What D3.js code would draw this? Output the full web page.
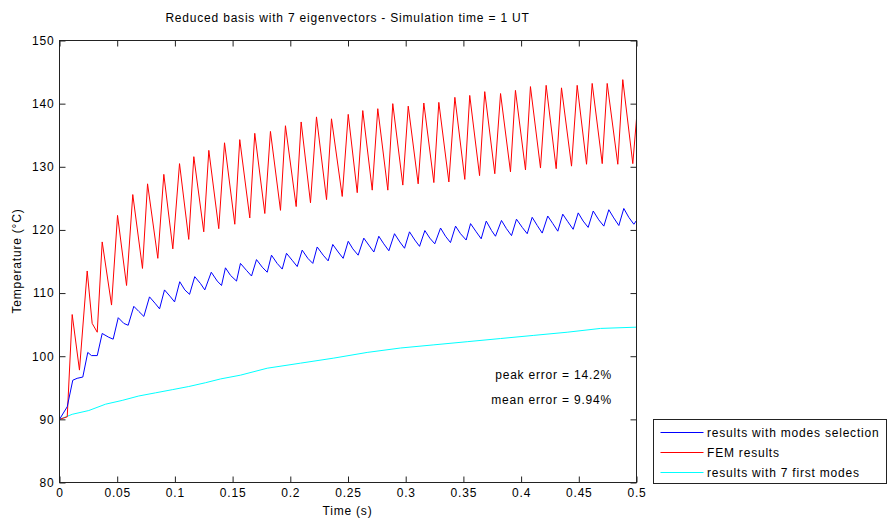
<!DOCTYPE html>
<html>
<head>
<meta charset="utf-8">
<script src="https://cdn.jsdelivr.net/npm/d3@7"></script>
<style>
  html, body { margin: 0; padding: 0; background: #fff; }
  svg { display: block; }
  text { font-family: "Liberation Sans", Arial, sans-serif; font-size: 12px; letter-spacing: 0.8px; fill: #000; }
</style>
</head>
<body>
<svg id="chart" width="887" height="520"></svg>
<script>
// ---------------- DATA ----------------
const titleText = "Reduced basis with 7 eigenvectors - Simulation time = 1 UT";
const xLabel = "Time (s)";
const yLabel = "Temperature (\u00B0C)";
const xTicks = [0, 0.05, 0.1, 0.15, 0.2, 0.25, 0.3, 0.35, 0.4, 0.45, 0.5];
const xTickLabels = ["0", "0.05", "0.1", "0.15", "0.2", "0.25", "0.3", "0.35", "0.4", "0.45", "0.5"];
const yTicks = [80, 90, 100, 110, 120, 130, 140, 150];
const yTickLabels = ["80", "90", "100", "110", "120", "130", "140", "150"];
const seriesNames = ["results with modes selection", "FEM results", "results with 7 first modes"];
const annotations = ["peak error = 14.2%", "mean error = 9.94%"];

// FEM results (red)
const redTime = [0, 0.0067, 0.0110, 0.0173, 0.0240, 0.0283, 0.0327, 0.0370, 0.0451, 0.0503, 0.0581, 0.0635, 0.0719, 0.0763,
  0.0852, 0.0904, 0.0982, 0.1040, 0.1120, 0.1164, 0.1250, 0.1294, 0.1380, 0.1430, 0.1519, 0.1562, 0.1649, 0.1692,
  0.1779, 0.1828, 0.1915, 0.1958, 0.2051, 0.2094, 0.2175, 0.2227, 0.2314, 0.2357, 0.2450, 0.2502, 0.2580, 0.2628,
  0.2710, 0.2758, 0.2845, 0.2888, 0.2975, 0.3022, 0.3108, 0.3157, 0.3244, 0.3287, 0.3374, 0.3426, 0.3512, 0.3555,
  0.3640, 0.3685, 0.3772, 0.3822, 0.3908, 0.3951, 0.4038, 0.4081, 0.4168, 0.4217, 0.4304, 0.4350, 0.4437, 0.4486,
  0.4567, 0.4616, 0.4703, 0.4746, 0.4838, 0.4881, 0.4968, 0.5000];
const redTemp = [90.0, 90.4, 106.6, 97.8, 113.5, 105.2, 103.8, 118.1, 108.1, 122.3, 111.2, 125.6, 113.9, 127.3,
  115.5, 128.8, 117.0, 130.5, 118.5, 131.6, 119.7, 132.6, 120.2, 133.8, 120.9, 134.3, 121.9, 135.3,
  122.6, 135.6, 123.1, 136.5, 123.7, 137.1, 124.3, 137.9, 124.8, 137.6, 125.3, 138.3, 125.9, 138.9,
  126.3, 139.2, 126.3, 140.0, 127.1, 139.6, 127.3, 140.1, 127.5, 140.2, 127.6, 141.0, 128.0, 141.3,
  128.6, 141.9, 128.9, 141.6, 129.2, 142.1, 129.5, 142.7, 129.8, 142.9, 129.7, 142.5, 130.1, 142.9,
  130.4, 143.2, 130.5, 143.2, 130.4, 143.8, 130.5, 137.6];

// results with modes selection (blue)
const blueTime = [0, 0.0067, 0.0115, 0.0153, 0.0202, 0.0245, 0.0277, 0.0327, 0.0370, 0.0427, 0.0465, 0.0509, 0.0557,
  0.0595, 0.0644, 0.0687, 0.0731, 0.0780, 0.0832, 0.0867, 0.0910, 0.0962, 0.0997, 0.1042, 0.1086, 0.1127, 0.1172,
  0.1222, 0.1259, 0.1315, 0.1367, 0.1404, 0.1438, 0.1482, 0.1534, 0.1568, 0.1620, 0.1664, 0.1707, 0.1757, 0.1800,
  0.1837, 0.1886, 0.1930, 0.1967, 0.2016, 0.2060, 0.2103, 0.2152, 0.2195, 0.2233, 0.2285, 0.2328, 0.2368, 0.2415,
  0.2458, 0.2502, 0.2542, 0.2588, 0.2637, 0.2680, 0.2724, 0.2767, 0.2810, 0.2854, 0.2903, 0.2949, 0.2990, 0.3033,
  0.3079, 0.3120, 0.3166, 0.3209, 0.3252, 0.3302, 0.3345, 0.3388, 0.3432, 0.3475, 0.3524, 0.3562, 0.3611, 0.3654,
  0.3698, 0.3744, 0.3778, 0.3830, 0.3873, 0.3917, 0.3960, 0.4010, 0.4053, 0.4096, 0.4140, 0.4183, 0.4231, 0.4275,
  0.4318, 0.4361, 0.4405, 0.4451, 0.4495, 0.4538, 0.4581, 0.4625, 0.4673, 0.4717, 0.4760, 0.4803, 0.4847, 0.4890,
  0.4933, 0.4977, 0.5000];
const blueTemp = [90.0, 92.0, 96.2, 96.5, 96.7, 100.6, 100.1, 100.1, 103.6, 103.0, 102.7, 106.1, 105.2,
  104.9, 107.9, 107.1, 106.3, 109.4, 108.3, 107.5, 110.5, 109.4, 108.6, 111.8, 110.5, 109.8, 112.6,
  111.5, 110.5, 113.3, 111.9, 111.2, 114.0, 112.8, 111.9, 114.7, 113.6, 112.7, 115.3, 114.1, 113.3,
  116.0, 114.7, 113.8, 116.3, 115.2, 114.2, 116.8, 115.5, 114.7, 117.3, 116.0, 115.1, 117.7, 116.5,
  115.5, 118.2, 117.0, 116.0, 118.7, 117.6, 116.5, 119.0, 117.8, 116.7, 119.4, 118.1, 117.1, 119.7,
  118.4, 117.4, 119.9, 118.7, 117.8, 120.3, 119.0, 118.0, 120.6, 119.4, 118.4, 121.0, 119.7, 118.6,
  121.4, 119.9, 119.0, 121.5, 120.2, 119.1, 121.7, 120.4, 119.4, 122.0, 120.7, 119.5, 122.2, 121.0,
  119.8, 122.5, 121.3, 120.1, 122.7, 121.4, 120.4, 123.0, 121.6, 120.6, 123.2, 121.9, 120.7, 123.4,
  122.0, 120.9, 121.5];

// results with 7 first modes (cyan)
const cyanTime = [0, 0.0110, 0.0254, 0.0399, 0.0543, 0.0687, 0.0832, 0.0977, 0.1120, 0.1265, 0.1395, 0.1568, 0.1800,
  0.2088, 0.2377, 0.2666, 0.2955, 0.3244, 0.3533, 0.3821, 0.4110, 0.4399, 0.4688, 0.5000];
const cyanTemp = [90.0, 90.8, 91.4, 92.4, 93.0, 93.7, 94.2, 94.7, 95.2, 95.8, 96.4, 97.0, 98.1,
  98.9, 99.7, 100.6, 101.3, 101.8, 102.3, 102.8, 103.3, 103.8, 104.4, 104.6];

// ---------------- CHART ----------------
const svg = d3.select("#chart");
const L = 59, R = 636, T = 40, B = 482;
const x = d3.scaleLinear().domain([0, 0.5]).range([L, R]);
const y = d3.scaleLinear().domain([80, 150]).range([B, T]);

const series = [
  { name: seriesNames[0], color: "#0000ff", t: blueTime, v: blueTemp },
  { name: seriesNames[1], color: "#ff0000", t: redTime, v: redTemp },
  { name: seriesNames[2], color: "#00ffff", t: cyanTime, v: cyanTemp }
];

svg.append("defs").append("clipPath").attr("id", "clip")
  .append("rect").attr("x", L).attr("y", T).attr("width", R - L).attr("height", B - T);

const root = svg.append("g").attr("transform", "translate(0.5,0.5)");

// lines (cyan first, then red, then blue on top)
const line = d3.line().x(d => x(d[0])).y(d => y(d[1]));
const drawOrder = [series[2], series[1], series[0]];
root.append("g").attr("clip-path", "url(#clip)")
  .selectAll("path").data(drawOrder).join("path")
  .attr("fill", "none")
  .attr("stroke", s => s.color)
  .attr("stroke-width", 1)
  .attr("d", s => line(s.t.map((t, i) => [t, s.v[i]])));

// axes
const axisColor = "#222";
function styleAxis(g, showLabels) {
  g.select(".domain").remove();
  g.selectAll(".tick line").attr("stroke", axisColor);
  if (!showLabels) g.selectAll(".tick text").remove();
  g.selectAll(".tick text").attr("fill", "#000").style("font-family", "'Liberation Sans', Arial, sans-serif").style("font-size", "12px");
}
root.append("g").attr("transform", `translate(0,${B})`)
  .call(d3.axisBottom(x).tickValues(xTicks).tickFormat((d, i) => xTickLabels[i]).tickSizeInner(-6).tickSizeOuter(0).tickPadding(6))
  .call(g => styleAxis(g, true));
root.append("g").attr("transform", `translate(0,${T})`)
  .call(d3.axisTop(x).tickValues(xTicks).tickSizeInner(-6).tickSizeOuter(0))
  .call(g => styleAxis(g, false));
root.append("g").attr("transform", `translate(${L},0)`)
  .call(d3.axisLeft(y).tickValues(yTicks).tickFormat((d, i) => yTickLabels[i]).tickSizeInner(-6).tickSizeOuter(0).tickPadding(5))
  .call(g => styleAxis(g, true));
root.append("g").attr("transform", `translate(${R},0)`)
  .call(d3.axisRight(y).tickValues(yTicks).tickSizeInner(-6).tickSizeOuter(0))
  .call(g => styleAxis(g, false));

// frame
root.append("rect").attr("x", L).attr("y", T).attr("width", R - L).attr("height", B - T)
  .attr("fill", "none").attr("stroke", axisColor).attr("stroke-width", 1);

// title & labels
svg.append("text").attr("x", (L + R) / 2).attr("y", 22).attr("text-anchor", "middle").text(titleText);
svg.append("text").attr("x", (L + R) / 2).attr("y", 515).attr("text-anchor", "middle").text(xLabel);
svg.append("text").attr("transform", `translate(21,${(T + B) / 2}) rotate(-90)`).attr("text-anchor", "middle").text(yLabel);

// annotations
svg.append("text").attr("x", 612).attr("y", 379).attr("text-anchor", "end").text(annotations[0]);
svg.append("text").attr("x", 612).attr("y", 404).attr("text-anchor", "end").text(annotations[1]);

// legend
const lg = root.append("g");
lg.append("rect").attr("x", 653).attr("y", 419).attr("width", 233).attr("height", 64)
  .attr("fill", "#fff").attr("stroke", axisColor);
const rowY = [432, 452, 472];
series.forEach((s, i) => {
  lg.append("line").attr("x1", 660).attr("x2", 703).attr("y1", rowY[i]).attr("y2", rowY[i])
    .attr("stroke", s.color).attr("stroke-width", 1);
  svg.append("text").attr("x", 707).attr("y", rowY[i] + 4.5).text(s.name);
});
</script>
</body>
</html>
